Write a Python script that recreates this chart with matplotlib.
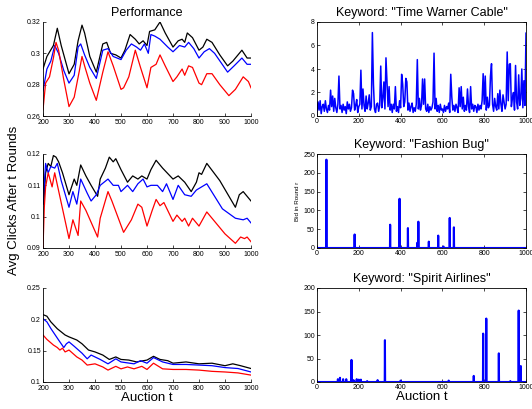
import numpy as np
import matplotlib
matplotlib.use("Agg")
import matplotlib.pyplot as plt

plt.rcParams['font.family'] = ['Liberation Sans', 'DejaVu Sans']

# ---- left column: average clicks after t rounds (black / blue / red) ----
perf_bk_x = [200, 215, 240, 255, 270, 290, 300, 320, 335, 350, 360, 380, 405, 430, 445, 460, 480, 500,
             515, 535, 555, 570, 585, 600, 610, 630, 650, 670, 700, 720, 735, 745, 755, 775, 800, 815,
             830, 850, 880, 910, 930, 965, 985, 1000]
perf_bk_y = [0.290, 0.298, 0.305, 0.316, 0.305, 0.293, 0.287, 0.293, 0.308, 0.318, 0.313, 0.298, 0.288,
             0.306, 0.307, 0.300, 0.299, 0.297, 0.302, 0.312, 0.309, 0.306, 0.308, 0.305, 0.314, 0.315,
             0.320, 0.313, 0.304, 0.308, 0.309, 0.307, 0.313, 0.310, 0.302, 0.304, 0.309, 0.307, 0.299,
             0.292, 0.295, 0.302, 0.297, 0.297]
perf_bl_x = [200, 215, 230, 245, 260, 280, 300, 320, 335, 345, 360, 380, 405, 430, 450, 470, 500, 520,
             540, 560, 575, 590, 605, 615, 630, 650, 680, 700, 725, 745, 760, 780, 800, 820, 840, 860,
             910, 935, 965, 985, 1000]
perf_bl_y = [0.276, 0.290, 0.295, 0.305, 0.300, 0.289, 0.281, 0.286, 0.304, 0.306, 0.299, 0.291, 0.284,
             0.302, 0.303, 0.298, 0.296, 0.302, 0.306, 0.304, 0.302, 0.306, 0.300, 0.312, 0.311, 0.309,
             0.304, 0.301, 0.305, 0.304, 0.307, 0.303, 0.297, 0.301, 0.303, 0.300, 0.288, 0.292, 0.297,
             0.293, 0.293]
perf_rd_x = [200, 210, 225, 240, 250, 260, 280, 300, 320, 340, 350, 360, 380, 405, 430, 450, 470, 500,
             510, 530, 555, 575, 600, 615, 635, 650, 670, 700, 715, 735, 745, 760, 775, 800, 810, 830,
             850, 880, 915, 940, 970, 990, 1000]
perf_rd_y = [0.264, 0.281, 0.285, 0.297, 0.307, 0.302, 0.283, 0.266, 0.272, 0.289, 0.298, 0.292, 0.281,
             0.270, 0.288, 0.301, 0.292, 0.277, 0.278, 0.285, 0.302, 0.291, 0.278, 0.291, 0.293, 0.299,
             0.292, 0.282, 0.285, 0.290, 0.286, 0.292, 0.291, 0.281, 0.280, 0.287, 0.287, 0.280, 0.273,
             0.277, 0.285, 0.282, 0.278]

mid_bk_x = [200, 203, 210, 220, 230, 240, 250, 260, 275, 300, 320, 330, 345, 365, 385, 410, 420, 440,
            455, 470, 480, 500, 525, 545, 565, 580, 600, 615, 635, 660, 700, 720, 745, 770, 790, 800,
            810, 830, 880, 940, 955, 970, 985, 1000]
mid_bk_y = [0.1195, 0.104, 0.114, 0.117, 0.116, 0.1195, 0.119, 0.1175, 0.114, 0.107, 0.112, 0.110,
            0.1165, 0.113, 0.110, 0.1065, 0.112, 0.1155, 0.119, 0.1175, 0.1185, 0.115, 0.111, 0.113,
            0.112, 0.113, 0.112, 0.115, 0.118, 0.1155, 0.112, 0.113, 0.111, 0.108, 0.111, 0.114,
            0.1135, 0.117, 0.1115, 0.103, 0.107, 0.108, 0.1065, 0.105]
mid_bl_x = [200, 210, 220, 230, 245, 255, 270, 300, 315, 330, 345, 370, 385, 405, 420, 450, 470, 490,
            500, 525, 545, 565, 585, 600, 615, 640, 660, 675, 700, 720, 745, 770, 790, 830, 890, 940,
            970, 985, 1000]
mid_bl_y = [0.104, 0.117, 0.114, 0.116, 0.1155, 0.117, 0.1115, 0.103, 0.108, 0.104, 0.112, 0.1075,
            0.105, 0.107, 0.110, 0.112, 0.110, 0.110, 0.108, 0.110, 0.108, 0.1105, 0.112, 0.1095,
            0.110, 0.110, 0.108, 0.1105, 0.1055, 0.110, 0.107, 0.1065, 0.1085, 0.1105, 0.1025,
            0.0995, 0.099, 0.0995, 0.098]
mid_rd_x = [200, 205, 210, 220, 235, 245, 300, 315, 335, 345, 365, 410, 420, 450, 465, 510, 540, 565,
            580, 600, 620, 635, 650, 665, 700, 715, 735, 745, 760, 775, 790, 800, 830, 900, 940, 960,
            975, 985, 1000]
mid_rd_y = [0.090, 0.103, 0.1095, 0.114, 0.1095, 0.114, 0.093, 0.099, 0.094, 0.105, 0.102, 0.0935,
            0.0995, 0.108, 0.105, 0.095, 0.099, 0.104, 0.103, 0.097, 0.102, 0.1055, 0.1035, 0.1045,
            0.0985, 0.1005, 0.0985, 0.0995, 0.097, 0.0995, 0.098, 0.097, 0.1015, 0.0945, 0.0915,
            0.0935, 0.093, 0.0935, 0.092]

bot_bk_x = [200, 215, 230, 255, 270, 285, 300, 330, 350, 375, 400, 430, 455, 480, 500, 530, 560, 600,
            625, 650, 680, 700, 750, 800, 850, 900, 930, 960, 1000]
bot_bk_y = [0.2075, 0.205, 0.196, 0.185, 0.180, 0.175, 0.172, 0.167, 0.161, 0.151, 0.148, 0.143, 0.136,
            0.140, 0.136, 0.135, 0.132, 0.135, 0.141, 0.136, 0.134, 0.130, 0.132, 0.129, 0.130, 0.126,
            0.129, 0.126, 0.1215]
bot_bl_x = [200, 215, 230, 260, 280, 290, 300, 320, 350, 370, 385, 400, 420, 450, 480, 500, 550, 575,
            600, 625, 660, 700, 750, 800, 850, 900, 950, 1000]
bot_bl_y = [0.201, 0.196, 0.1855, 0.167, 0.155, 0.161, 0.164, 0.157, 0.146, 0.137, 0.143, 0.140, 0.136,
            0.129, 0.137, 0.132, 0.129, 0.134, 0.130, 0.139, 0.132, 0.128, 0.128, 0.127, 0.126, 0.123,
            0.1215, 0.116]
bot_rd_x = [200, 215, 240, 255, 265, 275, 285, 300, 330, 350, 370, 400, 430, 450, 480, 500, 525, 550,
            580, 600, 625, 660, 700, 750, 800, 850, 900, 950, 1000]
bot_rd_y = [0.175, 0.168, 0.159, 0.155, 0.151, 0.154, 0.148, 0.151, 0.140, 0.135, 0.127, 0.129, 0.124,
            0.119, 0.125, 0.121, 0.124, 0.121, 0.125, 0.120, 0.130, 0.121, 0.120, 0.120, 0.119, 0.117,
            0.116, 0.1145, 0.111]

# ---- right column: bids per round ----
tw_x = list(range(0, 1001, 5))
tw_y = [0.3, 1.2, 0.5, 1.3, 0.2, 0.8, 1.0, 0.4, 1.3, 0.6,
        0.3, 0.9, 0.5, 2.2, 0.8, 1.7, 0.4, 1.5, 0.7, 0.3,
        1.0, 3.4, 0.6, 0.9, 0.3, 1.0, 0.5, 0.8, 0.2, 1.2,
        0.6, 1.0, 0.4, 0.7, 2.2, 1.9, 0.5, 0.9, 1.4, 0.3,
        0.8, 1.0, 3.9, 0.6, 2.3, 0.9, 0.4, 1.7, 0.6, 1.1,
        1.8, 0.5, 0.8, 7.1, 2.7, 0.6, 0.3, 1.0, 1.1, 0.4,
        0.9, 4.25, 0.7, 1.5, 2.9, 0.6, 4.95, 2.9, 0.8, 2.5,
        0.5, 1.0, 0.3, 1.0, 0.6, 2.5, 0.4, 0.8, 0.3, 1.3,
        0.7, 3.55, 2.7, 0.8, 1.2, 3.2, 2.9, 0.5, 1.1, 0.4,
        0.8, 1.1, 0.3, 0.7, 0.4, 1.0, 4.8, 0.6, 1.5, 0.5,
        0.9, 3.15, 1.0, 3.15, 0.6, 0.4, 1.0, 0.3, 0.8, 0.5,
        0.7, 1.2, 5.35, 0.6, 1.5, 0.4, 0.9, 0.3, 1.0, 0.5,
        0.6, 0.3, 0.9, 0.4, 0.8, 0.6, 1.1, 0.3, 3.55, 1.6,
        0.5, 0.9, 0.4, 1.0, 0.7, 0.3, 2.4, 0.8, 2.5, 0.6,
        1.6, 0.4, 0.9, 0.5, 2.3, 0.8, 0.3, 2.5, 0.6, 1.0,
        0.4, 0.9, 0.8, 0.3, 1.0, 0.5, 0.9, 0.6, 1.3, 3.6,
        1.0, 3.4, 0.5, 1.6, 0.7, 0.9, 3.4, 4.45, 1.0, 0.4,
        1.5, 0.8, 0.5, 1.9, 0.6, 2.2, 1.0, 0.4, 1.8, 1.2,
        0.6, 1.0, 5.45, 1.3, 4.4, 4.45, 0.8, 1.5, 2.0, 0.5,
        4.3, 1.2, 0.6, 3.5, 0.9, 1.5, 4.0, 0.7, 3.0, 0.9,
        7.05]

fb_rounds = [45, 180, 350, 395, 435, 480, 485, 535, 580, 605, 635, 655]
fb_bids = [235, 36, 62, 131, 53, 14, 70, 17, 33, 4, 80, 55]

sa_rounds = [100, 110, 125, 140, 165, 175, 190, 200, 210, 240, 290, 325, 400, 630, 750, 795, 810,
             870, 925, 965, 975]
sa_bids = [6, 9, 6, 6, 47, 4, 6, 5, 5, 2, 4, 89, 3, 3, 13, 103, 135, 61, 2, 152, 34]

t_all = np.arange(0, 1001)
fb_series = np.zeros(len(t_all))
fb_series[fb_rounds] = fb_bids
sa_series = np.zeros(len(t_all))
sa_series[sa_rounds] = sa_bids

fig = plt.figure(figsize=(5.32, 4.09), dpi=100)
W, H = 532.0, 409.0
rows = [(22, 116), (154, 248), (288, 382)]

def box(x0, x1, r):
    return [x0 / W, (H - r[1]) / H, (x1 - x0) / W, (r[1] - r[0]) / H]

left_data = [
    ((perf_bk_x, perf_bk_y), (perf_bl_x, perf_bl_y), (perf_rd_x, perf_rd_y),
     (0.26, 0.32), [0.26, 0.28, 0.30, 0.32], ['0.26', '0.28', '0.3', '0.32']),
    ((mid_bk_x, mid_bk_y), (mid_bl_x, mid_bl_y), (mid_rd_x, mid_rd_y),
     (0.09, 0.12), [0.09, 0.10, 0.11, 0.12], ['0.09', '0.1', '0.11', '0.12']),
    ((bot_bk_x, bot_bk_y), (bot_bl_x, bot_bl_y), (bot_rd_x, bot_rd_y),
     (0.10, 0.25), [0.10, 0.15, 0.20, 0.25], ['0.1', '0.15', '0.2', '0.25']),
]

left_axes = []
for i, (bk, bl, rd, ylim, yt, ytl) in enumerate(left_data):
    ax = fig.add_axes(box(43, 251, rows[i]))
    ax.plot(bk[0], bk[1], color='black', lw=0.9)
    ax.plot(bl[0], bl[1], color='blue', lw=0.9)
    ax.plot(rd[0], rd[1], color='red', lw=0.9)
    ax.set_xlim(200, 1000)
    ax.set_ylim(*ylim)
    ax.set_yticks(yt)
    ax.set_yticklabels(ytl)
    ax.set_xticks(range(200, 1001, 100))
    ax.spines['top'].set_visible(False)
    ax.spines['right'].set_visible(False)
    ax.tick_params(direction='in', labelsize=5, pad=1.5, length=2, width=0.5)
    ax.tick_params(axis='x', pad=2.5)
    for s in ax.spines.values():
        s.set_linewidth(0.6)
    left_axes.append(ax)

left_axes[0].set_title('Performance', fontsize=9, pad=4)
left_axes[2].set_xlabel('Auction t', fontsize=9.5, labelpad=0)
fig.text(14 / W, 1 - 200 / H, 'Avg Clicks After t Rounds', rotation=90,
         ha='center', va='center', fontsize=9.5)

right_axes = []
ax = fig.add_axes(box(317, 526, rows[0]))
ax.plot(tw_x, tw_y, color='blue', lw=1.1)
ax.set_ylim(0, 8)
ax.set_yticks([0, 2, 4, 6, 8])
ax.set_title('Keyword: "Time Warner Cable"', fontsize=9, pad=4)
right_axes.append(ax)

ax = fig.add_axes(box(317, 526, rows[1]))
ax.plot(t_all, fb_series, color='blue', lw=1.5)
ax.set_ylim(0, 250)
ax.set_yticks([0, 50, 100, 150, 200, 250])
ax.set_title('Keyword: "Fashion Bug"', fontsize=9, pad=4)
ax.set_ylabel('Bid in Round r', fontsize=4.5, labelpad=2)
right_axes.append(ax)

ax = fig.add_axes(box(317, 526, rows[2]))
ax.plot(t_all, sa_series, color='blue', lw=1.5)
ax.set_ylim(0, 200)
ax.set_yticks([0, 50, 100, 150, 200])
ax.set_title('Keyword: "Spirit Airlines"', fontsize=9, pad=4)
ax.set_xlabel('Auction t', fontsize=9.5, labelpad=0)
right_axes.append(ax)

for ax in right_axes:
    ax.set_xlim(0, 1000)
    ax.set_xticks(range(0, 1001, 200))
    ax.tick_params(direction='in', labelsize=5, pad=1.5, length=2, width=0.5,
                   top=True, right=True)
    for s in ax.spines.values():
        s.set_linewidth(0.6)

fig.savefig('out.png', dpi=100)
